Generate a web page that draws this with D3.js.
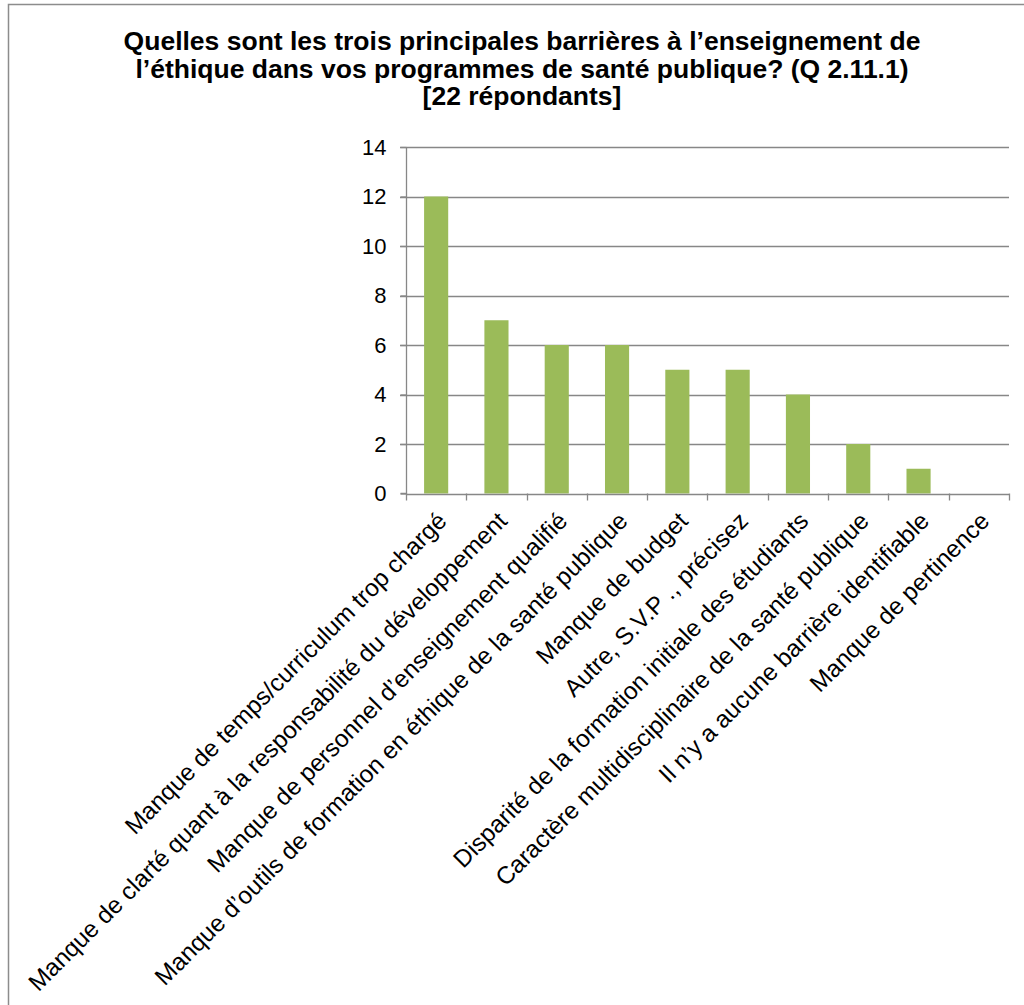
<!DOCTYPE html>
<html><head><meta charset="utf-8">
<script src="https://cdn.jsdelivr.net/npm/d3@7"></script>
<style>html,body{margin:0;padding:0;background:#fff;}svg{display:block;}</style>
</head><body>
<script>
const titleLines = ["Quelles sont les trois principales barrières à l’enseignement de", "l’éthique dans vos programmes de santé publique? (Q 2.11.1)", "[22 répondants]"];
const categories = ["Manque de temps/curriculum trop chargé", "Manque de clarté quant à la responsabilité du développement", "Manque de personnel d’enseignement qualifié", "Manque d’outils de formation en éthique de la santé publique", "Manque de budget", "Autre, S.V.P ., précisez", "Disparité de la formation initiale des étudiants", "Caractère multidisciplinaire de la santé publique", "Il n’y a aucune barrière identifiable", "Manque de pertinence"];
const values = [12, 7, 6, 6, 5, 5, 4, 2, 1, 0];
const yTicks = [0, 2, 4, 6, 8, 10, 12, 14];

const W = 1024, H = 1005;
const svg = d3.select("body").append("svg").attr("width", W).attr("height", H);
const font = "'Liberation Sans', Arial, sans-serif";

svg.append("rect").attr("x", 8.5).attr("y", 4.5).attr("width", 1030).attr("height", 1010)
  .attr("fill", "#fff").attr("stroke", "#8c8c8c").attr("stroke-width", 1.5);

const title = svg.append("text").attr("font-family", font).attr("font-weight", "bold")
  .attr("font-size", 26.5).attr("text-anchor", "middle").attr("fill", "#000");
titleLines.forEach((t, i) => title.append("tspan").attr("x", 522).attr("y", 50 + i * 27.5).text(t));

const x0 = 406, x1 = 1009, yTop = 147, yBot = 493.5;
const x = d3.scaleBand().domain(categories).range([x0, x1]).paddingInner(0.6).paddingOuter(0.3);
const y = d3.scaleLinear().domain([0, 14]).range([yBot, yTop]);

// gridlines
const g = svg.append("g");
g.selectAll("line.grid").data(yTicks.filter(d => d > 0)).join("line")
  .attr("x1", x0 - 6).attr("x2", x1).attr("y1", d => Math.round(y(d)) + 0.5).attr("y2", d => Math.round(y(d)) + 0.5)
  .attr("stroke", "#878787").attr("stroke-width", 1.3);

// bars
g.selectAll("rect.bar").data(values).join("rect")
  .attr("x", (d, i) => x(categories[i])).attr("width", x.bandwidth())
  .attr("y", d => y(d)).attr("height", d => yBot - y(d))
  .attr("fill", "#9BBB59");

// y axis
const yAxis = d3.axisLeft(y).tickValues(yTicks).tickSize(6).tickPadding(14);
const ya = svg.append("g").attr("transform", `translate(${x0 + 0.5},0)`).call(yAxis);
ya.select(".domain").attr("stroke", "#878787").attr("stroke-width", 1.3).attr("d", `M-6,${yBot}H0V${yTop}`);
ya.selectAll(".tick line").attr("stroke", "#878787").attr("stroke-width", 1.3);
ya.selectAll(".tick text").attr("font-family", font).attr("font-size", 22).attr("fill", "#000");

// x axis
const bounds = categories.map(c => x(c) - (x.step() * x.paddingInner()) / 2).concat([x1]);
const xa = svg.append("g");
xa.append("line").attr("x1", x0).attr("x2", x1).attr("y1", Math.round(yBot) + 0.5).attr("y2", Math.round(yBot) + 0.5)
  .attr("stroke", "#878787").attr("stroke-width", 1.3);
xa.selectAll("line.t").data(bounds).join("line")
  .attr("x1", d => Math.round(d) + 0.5).attr("x2", d => Math.round(d) + 0.5)
  .attr("y1", yBot).attr("y2", yBot + 7).attr("stroke", "#878787").attr("stroke-width", 1.3);
xa.selectAll("text").data(categories).join("text")
  .attr("font-family", font).attr("font-size", 24.3).attr("fill", "#000").attr("text-anchor", "end")
  .attr("transform", c => `translate(${x(c) + x.bandwidth() / 2 + 12},${yBot + 29}) rotate(-45)`)
  .text(c => c);
</script>
</body></html>
